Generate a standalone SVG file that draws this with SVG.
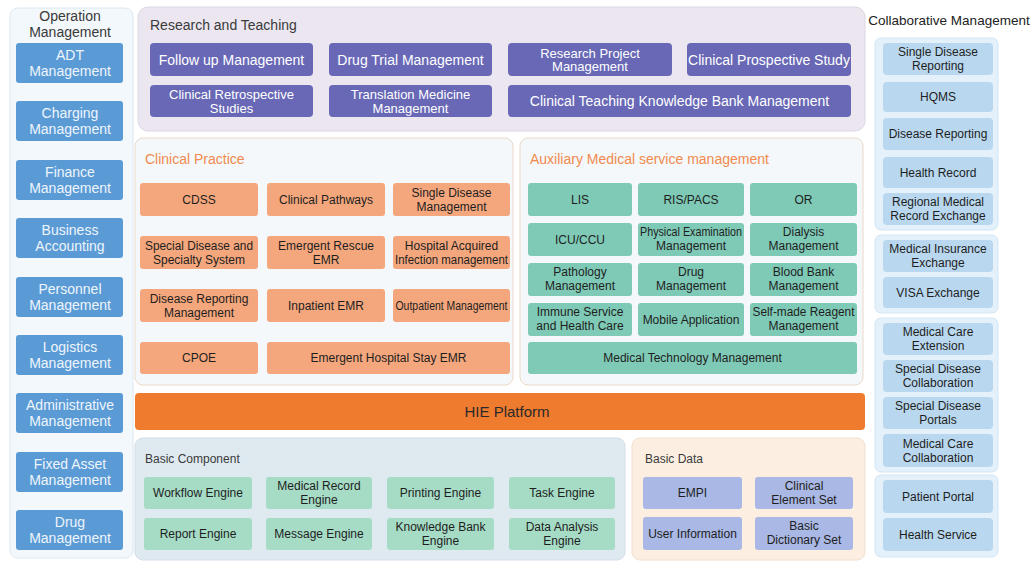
<svg xmlns="http://www.w3.org/2000/svg" width="1035" height="561" viewBox="0 0 1035 561">
<style>
text{font-family:"Liberation Sans",Arial,sans-serif;}
.ttl{font-size:14px;fill:#3a3a3a;}
.ottl{font-size:14px;fill:#f08a4e;}
.sttl{font-size:12px;fill:#3a3a3a;}
.lb{fill:#5b9bd5;}
.lt{font-size:14px;fill:#eef5fc;text-anchor:middle;}
.pb{fill:#6868b6;}
.pt{font-size:14px;fill:#ffffff;text-anchor:middle;}
.pt2{font-size:13px;fill:#ffffff;text-anchor:middle;}
.ob{fill:#f4a77d;}
.tb{fill:#7fcab6;}
.gb{fill:#a6dcc6;}
.db{fill:#a9b8e4;}
.rb{fill:#b9d8ef;}
.dt{font-size:12px;fill:#1e1e1e;text-anchor:middle;}
.rt{font-size:12px;fill:#1e1e1e;text-anchor:middle;}
</style>

<!-- Operation Management -->
<g id="operation-management">
<rect x="10" y="8" width="123" height="550" rx="8" fill="#f3f8fc" stroke="#dbe8f2"/>
<text class="ttl" x="70" y="21" text-anchor="middle">Operation</text>
<text class="ttl" x="70" y="37" text-anchor="middle">Management</text>
</g>
<g id="adt"><rect class="lb" x="16" y="43" width="107" height="40" rx="3"/><text class="lt" x="70" y="60">ADT</text><text class="lt" x="70" y="76">Management</text></g>
<g id="charging"><rect class="lb" x="16" y="101" width="107" height="40" rx="3"/><text class="lt" x="70" y="118">Charging</text><text class="lt" x="70" y="134">Management</text></g>
<g id="finance"><rect class="lb" x="16" y="160" width="107" height="40" rx="3"/><text class="lt" x="70" y="177">Finance</text><text class="lt" x="70" y="193">Management</text></g>
<g id="business"><rect class="lb" x="16" y="218" width="107" height="40" rx="3"/><text class="lt" x="70" y="235">Business</text><text class="lt" x="70" y="251">Accounting</text></g>
<g id="personnel"><rect class="lb" x="16" y="277" width="107" height="40" rx="3"/><text class="lt" x="70" y="294">Personnel</text><text class="lt" x="70" y="310">Management</text></g>
<g id="logistics"><rect class="lb" x="16" y="335" width="107" height="40" rx="3"/><text class="lt" x="70" y="352">Logistics</text><text class="lt" x="70" y="368">Management</text></g>
<g id="administrative"><rect class="lb" x="16" y="393" width="107" height="40" rx="3"/><text class="lt" x="70" y="410">Administrative</text><text class="lt" x="70" y="426">Management</text></g>
<g id="fixed-asset"><rect class="lb" x="16" y="452" width="107" height="40" rx="3"/><text class="lt" x="70" y="469">Fixed Asset</text><text class="lt" x="70" y="485">Management</text></g>
<g id="drug"><rect class="lb" x="16" y="510" width="107" height="40" rx="3"/><text class="lt" x="70" y="527">Drug</text><text class="lt" x="70" y="543">Management</text></g>

<!-- Research and Teaching -->
<g id="research-teaching">
<rect x="138" y="7" width="727" height="124" rx="10" fill="#ebe6f0" stroke="#ddd6e6"/>
<text class="ttl" x="150" y="30">Research and Teaching</text>
</g>
<g id="follow-up"><rect class="pb" x="150" y="43" width="163" height="33" rx="4"/><text class="pt" x="231.5" y="64.5">Follow up Management</text></g>
<g id="drug-trial"><rect class="pb" x="329" y="43" width="163" height="33" rx="4"/><text class="pt" x="410.5" y="64.5">Drug Trial Management</text></g>
<g id="research-project"><rect class="pb" x="508" y="43" width="164" height="33" rx="4"/><text class="pt2" x="590" y="57.5">Research Project</text><text class="pt2" x="590" y="71">Management</text></g>
<g id="clinical-prospective"><rect class="pb" x="687" y="43" width="164" height="33" rx="4"/><text class="pt" x="769" y="64.5" font-size="13.5">Clinical Prospective Study</text></g>
<g id="clinical-retrospective"><rect class="pb" x="150" y="85" width="163" height="32" rx="4"/><text class="pt2" x="231.5" y="99">Clinical Retrospective</text><text class="pt2" x="231.5" y="112.5">Studies</text></g>
<g id="translation-medicine"><rect class="pb" x="329" y="85" width="163" height="32" rx="4"/><text class="pt2" x="410.5" y="99">Translation Medicine</text><text class="pt2" x="410.5" y="112.5">Management</text></g>
<g id="clinical-teaching"><rect class="pb" x="508" y="85" width="343" height="32" rx="4"/><text class="pt" x="679.5" y="106">Clinical Teaching Knowledge Bank Management</text></g>

<!-- Clinical Practice -->
<g id="clinical-practice">
<rect x="135" y="138" width="378" height="247" rx="8" fill="#f5f8fb" stroke="#ead9c8"/>
<text class="ottl" x="145" y="164">Clinical Practice</text>
</g>
<g id="cdss"><rect class="ob" x="140" y="183" width="118" height="33" rx="3"/><text class="dt" x="199" y="203.5">CDSS</text></g>
<g id="clinical-pathways"><rect class="ob" x="267" y="183" width="118" height="33" rx="3"/><text class="dt" x="326" y="203.5">Clinical Pathways</text></g>
<g id="single-disease-mgmt"><rect class="ob" x="393" y="183" width="117" height="33" rx="3"/><text class="dt" x="451.5" y="197">Single Disease</text><text class="dt" x="451.5" y="211">Management</text></g>
<g id="special-disease"><rect class="ob" x="140" y="236" width="118" height="33" rx="3"/><text class="dt" x="199" y="250" textLength="108" lengthAdjust="spacingAndGlyphs">Special Disease and</text><text class="dt" x="199" y="264">Specialty System</text></g>
<g id="emergent-rescue"><rect class="ob" x="267" y="236" width="118" height="33" rx="3"/><text class="dt" x="326" y="250">Emergent Rescue</text><text class="dt" x="326" y="264">EMR</text></g>
<g id="hospital-acquired"><rect class="ob" x="393" y="236" width="117" height="33" rx="3"/><text class="dt" x="451.5" y="250">Hospital Acquired</text><text class="dt" x="451.5" y="264" textLength="113" lengthAdjust="spacingAndGlyphs">Infection management</text></g>
<g id="disease-reporting-mgmt"><rect class="ob" x="140" y="289" width="118" height="33" rx="3"/><text class="dt" x="199" y="303">Disease Reporting</text><text class="dt" x="199" y="317">Management</text></g>
<g id="inpatient-emr"><rect class="ob" x="267" y="289" width="118" height="33" rx="3"/><text class="dt" x="326" y="309.5">Inpatient EMR</text></g>
<g id="outpatient"><rect class="ob" x="393" y="289" width="117" height="33" rx="3"/><text class="dt" x="451.5" y="309.5" textLength="112" lengthAdjust="spacingAndGlyphs">Outpatient Management</text></g>
<g id="cpoe"><rect class="ob" x="140" y="342" width="118" height="32" rx="3"/><text class="dt" x="199" y="362">CPOE</text></g>
<g id="emergent-hospital-stay"><rect class="ob" x="267" y="342" width="243" height="32" rx="3"/><text class="dt" x="388.5" y="362">Emergent Hospital Stay EMR</text></g>

<!-- Auxiliary Medical service management -->
<g id="auxiliary">
<rect x="520" y="138" width="343" height="247" rx="8" fill="#f5f8fb" stroke="#ead9c8"/>
<text class="ottl" x="530" y="164">Auxiliary Medical service management</text>
</g>
<g id="lis"><rect class="tb" x="528" y="183" width="104" height="33" rx="3"/><text class="dt" x="580" y="203.5">LIS</text></g>
<g id="ris-pacs"><rect class="tb" x="638" y="183" width="106" height="33" rx="3"/><text class="dt" x="691" y="203.5">RIS/PACS</text></g>
<g id="or"><rect class="tb" x="750" y="183" width="107" height="33" rx="3"/><text class="dt" x="803.5" y="203.5">OR</text></g>
<g id="icu-ccu"><rect class="tb" x="528" y="223" width="104" height="33" rx="3"/><text class="dt" x="580" y="243.5">ICU/CCU</text></g>
<g id="physical-exam"><rect class="tb" x="638" y="223" width="106" height="33" rx="3"/><text class="dt" x="691" y="236" textLength="102" lengthAdjust="spacingAndGlyphs">Physical Examination</text><text class="dt" x="691" y="250">Management</text></g>
<g id="dialysis"><rect class="tb" x="750" y="223" width="107" height="33" rx="3"/><text class="dt" x="803.5" y="236">Dialysis</text><text class="dt" x="803.5" y="250">Management</text></g>
<g id="pathology"><rect class="tb" x="528" y="263" width="104" height="33" rx="3"/><text class="dt" x="580" y="276">Pathology</text><text class="dt" x="580" y="290">Management</text></g>
<g id="drug-mgmt"><rect class="tb" x="638" y="263" width="106" height="33" rx="3"/><text class="dt" x="691" y="276">Drug</text><text class="dt" x="691" y="290">Management</text></g>
<g id="blood-bank"><rect class="tb" x="750" y="263" width="107" height="33" rx="3"/><text class="dt" x="803.5" y="276">Blood Bank</text><text class="dt" x="803.5" y="290">Management</text></g>
<g id="immune-service"><rect class="tb" x="528" y="303" width="104" height="33" rx="3"/><text class="dt" x="580" y="316">Immune Service</text><text class="dt" x="580" y="330">and Health Care</text></g>
<g id="mobile-app"><rect class="tb" x="638" y="303" width="106" height="33" rx="3"/><text class="dt" x="691" y="323.5">Mobile Application</text></g>
<g id="self-made-reagent"><rect class="tb" x="750" y="303" width="107" height="33" rx="3"/><text class="dt" x="803.5" y="316" textLength="102" lengthAdjust="spacingAndGlyphs">Self-made Reagent</text><text class="dt" x="803.5" y="330">Management</text></g>
<g id="medical-technology"><rect class="tb" x="528" y="342" width="329" height="32" rx="3"/><text class="dt" x="692.5" y="362">Medical Technology Management</text></g>

<!-- HIE Platform -->
<g id="hie-platform"><rect x="135" y="393" width="730" height="37" rx="4" fill="#ef7b2e"/><text x="507" y="417" font-size="15" fill="#2a2a2a" text-anchor="middle">HIE Platform</text></g>

<!-- Basic Component -->
<g id="basic-component">
<rect x="135" y="438" width="490" height="122" rx="8" fill="#dfe9f0" stroke="#d2dee8"/>
<text class="sttl" x="145" y="463">Basic Component</text>
</g>
<g id="workflow-engine"><rect class="gb" x="144" y="477" width="108" height="32" rx="3"/><text class="dt" x="198" y="497">Workflow Engine</text></g>
<g id="medical-record-engine"><rect class="gb" x="266" y="477" width="106" height="32" rx="3"/><text class="dt" x="319" y="490">Medical Record</text><text class="dt" x="319" y="504">Engine</text></g>
<g id="printing-engine"><rect class="gb" x="387" y="477" width="107" height="32" rx="3"/><text class="dt" x="440.5" y="497">Printing Engine</text></g>
<g id="task-engine"><rect class="gb" x="509" y="477" width="106" height="32" rx="3"/><text class="dt" x="562" y="497">Task Engine</text></g>
<g id="report-engine"><rect class="gb" x="144" y="518" width="108" height="32" rx="3"/><text class="dt" x="198" y="538">Report Engine</text></g>
<g id="message-engine"><rect class="gb" x="266" y="518" width="106" height="32" rx="3"/><text class="dt" x="319" y="538">Message Engine</text></g>
<g id="knowledge-bank-engine"><rect class="gb" x="387" y="518" width="107" height="32" rx="3"/><text class="dt" x="440.5" y="531">Knowledge Bank</text><text class="dt" x="440.5" y="545">Engine</text></g>
<g id="data-analysis-engine"><rect class="gb" x="509" y="518" width="106" height="32" rx="3"/><text class="dt" x="562" y="531">Data Analysis</text><text class="dt" x="562" y="545">Engine</text></g>

<!-- Basic Data -->
<g id="basic-data">
<rect x="632" y="438" width="233" height="122" rx="8" fill="#fcefe2" stroke="#f0e0d0"/>
<text class="sttl" x="645" y="463">Basic Data</text>
</g>
<g id="empi"><rect class="db" x="643" y="477" width="99" height="32" rx="3"/><text class="dt" x="692.5" y="497">EMPI</text></g>
<g id="clinical-element-set"><rect class="db" x="755" y="477" width="98" height="32" rx="3"/><text class="dt" x="804" y="490">Clinical</text><text class="dt" x="804" y="504">Element Set</text></g>
<g id="user-information"><rect class="db" x="643" y="517" width="99" height="33" rx="3"/><text class="dt" x="692.5" y="537.5">User Information</text></g>
<g id="basic-dictionary-set"><rect class="db" x="755" y="517" width="98" height="33" rx="3"/><text class="dt" x="804" y="530">Basic</text><text class="dt" x="804" y="544">Dictionary Set</text></g>

<!-- Collaborative Management -->
<g id="collaborative-management">
<text x="949" y="25" font-size="13.5" fill="#222" text-anchor="middle">Collaborative Management</text>
<rect x="875" y="38" width="123" height="192" rx="6" fill="#e4f1fb" stroke="#d2e6f5"/>
<rect x="875" y="235" width="123" height="78" rx="6" fill="#e4f1fb" stroke="#d2e6f5"/>
<rect x="875" y="318" width="123" height="154" rx="6" fill="#e4f1fb" stroke="#d2e6f5"/>
<rect x="875" y="475" width="123" height="82" rx="6" fill="#e4f1fb" stroke="#d2e6f5"/>
</g>
<g id="single-disease-reporting"><rect class="rb" x="883" y="43" width="110" height="32" rx="4"/><text class="rt" x="938" y="56">Single Disease</text><text class="rt" x="938" y="70">Reporting</text></g>
<g id="hqms"><rect class="rb" x="883" y="82" width="110" height="30" rx="4"/><text class="rt" x="938" y="101">HQMS</text></g>
<g id="disease-reporting"><rect class="rb" x="883" y="118" width="110" height="32" rx="4"/><text class="rt" x="938" y="138">Disease Reporting</text></g>
<g id="health-record"><rect class="rb" x="883" y="157" width="110" height="31" rx="4"/><text class="rt" x="938" y="176.5">Health Record</text></g>
<g id="regional-medical-record"><rect class="rb" x="883" y="193" width="110" height="32" rx="4"/><text class="rt" x="938" y="206">Regional Medical</text><text class="rt" x="938" y="220">Record Exchange</text></g>
<g id="medical-insurance"><rect class="rb" x="883" y="240" width="110" height="32" rx="4"/><text class="rt" x="938" y="253">Medical Insurance</text><text class="rt" x="938" y="267">Exchange</text></g>
<g id="visa-exchange"><rect class="rb" x="883" y="277" width="110" height="31" rx="4"/><text class="rt" x="938" y="296.5">VISA Exchange</text></g>
<g id="medical-care-extension"><rect class="rb" x="883" y="323" width="110" height="32" rx="4"/><text class="rt" x="938" y="336">Medical Care</text><text class="rt" x="938" y="350">Extension</text></g>
<g id="special-disease-collab"><rect class="rb" x="883" y="360" width="110" height="32" rx="4"/><text class="rt" x="938" y="373">Special Disease</text><text class="rt" x="938" y="387">Collaboration</text></g>
<g id="special-disease-portals"><rect class="rb" x="883" y="397" width="110" height="32" rx="4"/><text class="rt" x="938" y="410">Special Disease</text><text class="rt" x="938" y="424">Portals</text></g>
<g id="medical-care-collab"><rect class="rb" x="883" y="434" width="110" height="33" rx="4"/><text class="rt" x="938" y="447.5">Medical Care</text><text class="rt" x="938" y="461.5">Collaboration</text></g>
<g id="patient-portal"><rect class="rb" x="883" y="480" width="110" height="33" rx="4"/><text class="rt" x="938" y="500.5">Patient Portal</text></g>
<g id="health-service"><rect class="rb" x="883" y="518" width="110" height="33" rx="4"/><text class="rt" x="938" y="538.5">Health Service</text></g>

<g id="connectors"/>
</svg>
